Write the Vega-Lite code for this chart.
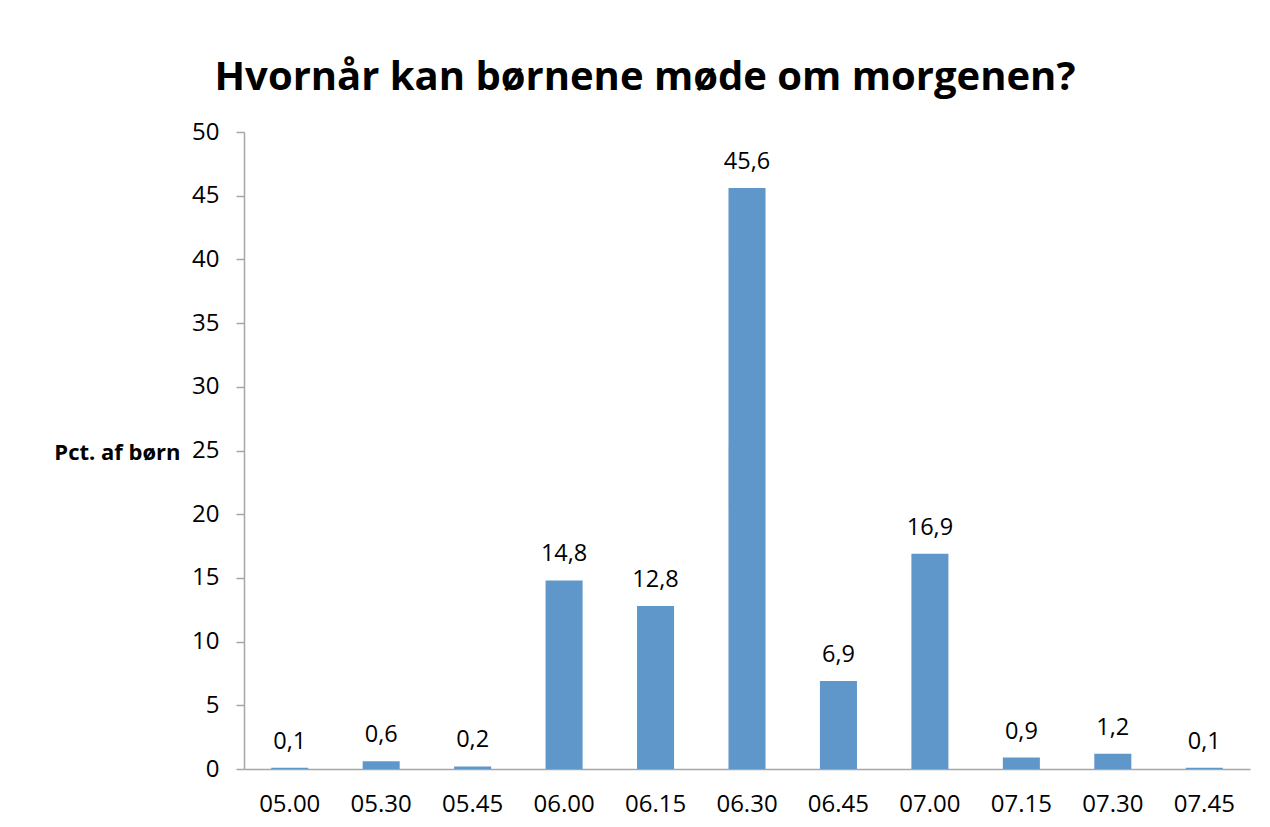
{
  "$schema": "https://vega.github.io/schema/vega-lite/v6.json",
  "width": 1006,
  "height": 637,
  "autosize": {"type": "none"},
  "padding": {"left": 244, "top": 132, "right": 20, "bottom": 58},
  "background": "white",
  "title": {
    "text": "Hvornår kan børnene møde om morgenen?",
    "font": "Open Sans",
    "fontSize": 40,
    "fontWeight": "bold",
    "color": "#000000",
    "anchor": "middle",
    "baseline": "alphabetic",
    "offset": -10,
    "dx": -102
  },
  "data": {
    "values": [
      {"tid": "05.00", "pct": 0.1, "label": "0,1"},
      {"tid": "05.30", "pct": 0.6, "label": "0,6"},
      {"tid": "05.45", "pct": 0.2, "label": "0,2"},
      {"tid": "06.00", "pct": 14.8, "label": "14,8"},
      {"tid": "06.15", "pct": 12.8, "label": "12,8"},
      {"tid": "06.30", "pct": 45.6, "label": "45,6"},
      {"tid": "06.45", "pct": 6.9, "label": "6,9"},
      {"tid": "07.00", "pct": 16.9, "label": "16,9"},
      {"tid": "07.15", "pct": 0.9, "label": "0,9"},
      {"tid": "07.30", "pct": 1.2, "label": "1,2"},
      {"tid": "07.45", "pct": 0.1, "label": "0,1"}
    ]
  },
  "encoding": {
    "x": {
      "field": "tid",
      "type": "nominal",
      "sort": null,
      "scale": {"paddingInner": 0.595, "paddingOuter": 0.2975},
      "axis": {
        "title": null,
        "labelAngle": 0,
        "labelFont": "Open Sans",
        "labelFontSize": 24,
        "labelColor": "#000000",
        "labelPadding": 23,
        "ticks": false,
        "domainColor": "#a6a6a6",
        "domainWidth": 1.5
      }
    },
    "y": {
      "field": "pct",
      "type": "quantitative",
      "scale": {"domain": [0, 50], "nice": false},
      "axis": {
        "title": "Pct. af børn",
        "titleAngle": 0,
        "titleAlign": "right",
        "titleBaseline": "middle",
        "titleX": -64,
        "titleY": 320,
        "titleFont": "Open Sans",
        "titleFontSize": 22,
        "titleFontWeight": "bold",
        "titleColor": "#000000",
        "values": [0, 5, 10, 15, 20, 25, 30, 35, 40, 45, 50],
        "grid": false,
        "labelFont": "Open Sans",
        "labelFontSize": 24,
        "labelColor": "#000000",
        "labelPadding": 17,
        "tickSize": 8,
        "tickColor": "#a6a6a6",
        "tickWidth": 1.5,
        "domainColor": "#a6a6a6",
        "domainWidth": 1.5
      }
    }
  },
  "layer": [
    {"mark": {"type": "bar", "color": "#6097cb"}},
    {
      "mark": {
        "type": "text",
        "font": "Open Sans",
        "fontSize": 23.5,
        "color": "#000000",
        "baseline": "bottom",
        "dy": -14
      },
      "encoding": {"text": {"field": "label"}}
    }
  ],
  "config": {"view": {"stroke": null}}
}
